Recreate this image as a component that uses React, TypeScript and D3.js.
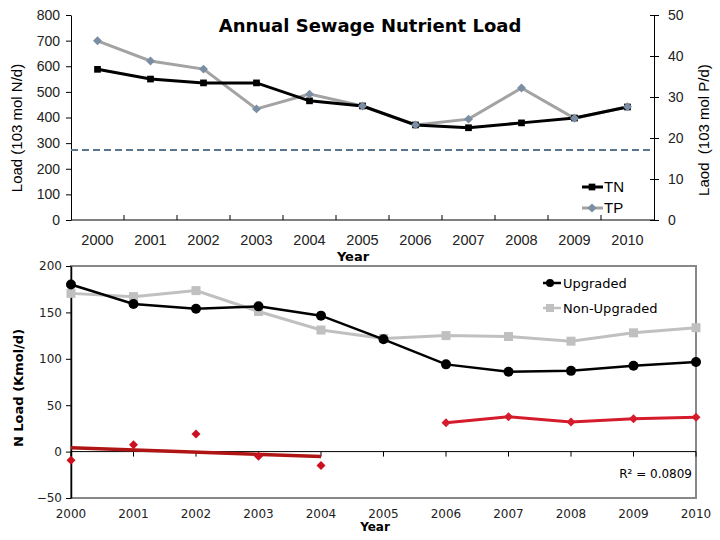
import React, { useEffect, useRef } from 'react';
import * as d3 from 'd3';

// Top panel: annual sewage nutrient load
const years = ['2000', '2001', '2002', '2003', '2004', '2005', '2006', '2007', '2008', '2009', '2010'];
const tnLoad = [588, 550, 535, 535, 465, 445, 371, 360, 379, 398, 441];
const tpLoad = [43.7, 38.8, 36.8, 27.1, 30.7, 27.8, 23.2, 24.6, 32.2, 24.8, 27.6];
const targetLine = 273;
const leftTicks = [0, 100, 200, 300, 400, 500, 600, 700, 800];
const rightTicks = [0, 10, 20, 30, 40, 50];

// Bottom panel: N load of upgraded vs non-upgraded plants
const yearNums = [2000, 2001, 2002, 2003, 2004, 2005, 2006, 2007, 2008, 2009, 2010];
const upgraded = [180, 159, 154, 156.5, 146.5, 121, 94, 86, 87, 92.5, 96.5];
const nonUpgraded = [170.5, 167, 173.5, 151, 131, 122, 125, 124, 119, 128, 133.5];
const diffEarlyYears = [2000, 2001, 2002, 2003, 2004];
const diffEarly = [-9.4, 7.4, 19, -5, -15];
const diffLateYears = [2006, 2007, 2008, 2009, 2010];
const diffLate = [31, 37.6, 32, 35.5, 37];
const bottomTicks = [-50, 0, 50, 100, 150, 200];

const ARIAL = '"Liberation Sans", Arial, sans-serif';
const VERDANA = '"DejaVu Sans", Verdana, sans-serif';

const App: React.FC = () => {
  const ref = useRef<SVGSVGElement>(null);

  useEffect(() => {
    if (!ref.current) return;
    const svg = d3.select(ref.current);
    svg.selectAll('*').remove();

    // square rotated 45deg = diamond
    const square = d3.symbol().type(d3.symbolSquare).size(45);
    const diamond = d3.symbol().type(d3.symbolSquare).size(40);

    // ---------- top chart ----------
    const x = d3.scaleBand<string>().domain(years).range([71, 654]);
    const yL = d3.scaleLinear().domain([0, 800]).range([220, 15]);
    const yR = d3.scaleLinear().domain([0, 50]).range([220, 15]);
    const cx = (d: string) => (x(d) ?? 0) + x.bandwidth() / 2;

    const top = svg.append('g');

    // left axis
    const la = top.append('g')
      .attr('transform', 'translate(71,0)')
      .call(d3.axisLeft(yL).tickValues(leftTicks).tickSize(5).tickPadding(6).tickSizeOuter(0));
    la.select('.domain').attr('stroke', '#000');
    la.selectAll('text').style('font-family', ARIAL).style('font-size', '14px').attr('fill', '#222');

    // right axis
    const ra = top.append('g')
      .attr('transform', 'translate(654,0)')
      .call(d3.axisRight(yR).tickValues(rightTicks).tickSize(5).tickPadding(9).tickSizeOuter(0));
    ra.selectAll('text').style('font-family', ARIAL).style('font-size', '14px').attr('fill', '#222');
    ra.selectAll('.tick line').attr('x1', -4);

    // x axis
    top.append('line').attr('x1', 71).attr('x2', 654).attr('y1', 220).attr('y2', 220).attr('stroke', '#000');
    years.forEach((yr, i) => {
      if (i > 0) {
        top.append('line')
          .attr('x1', x(yr) ?? 0).attr('x2', x(yr) ?? 0)
          .attr('y1', 220).attr('y2', 215).attr('stroke', '#000');
      }
      top.append('text')
        .attr('x', cx(yr)).attr('y', 245)
        .attr('text-anchor', 'middle')
        .style('font-family', ARIAL).style('font-size', '14.5px')
        .attr('fill', '#222')
        .text(yr);
    });

    top.append('text')
      .attr('x', 353).attr('y', 261).attr('text-anchor', 'middle')
      .style('font-family', VERDANA).style('font-size', '13px').style('font-weight', 'bold')
      .text('Year');

    // dashed reference line
    top.append('line')
      .attr('x1', 71).attr('x2', 654)
      .attr('y1', yL(targetLine)).attr('y2', yL(targetLine))
      .attr('stroke', '#5b768c').attr('stroke-width', 2).attr('stroke-dasharray', '7,4');

    // TP line (right axis)
    const tpLine = d3.line<number>().x((_, i) => cx(years[i])).y((d) => yR(d));
    top.append('path').datum(tpLoad)
      .attr('fill', 'none').attr('stroke', '#a3a3a3').attr('stroke-width', 3).attr('d', tpLine);

    // TN line (left axis)
    const tnLine = d3.line<number>().x((_, i) => cx(years[i])).y((d) => yL(d));
    top.append('path').datum(tnLoad)
      .attr('fill', 'none').attr('stroke', '#000').attr('stroke-width', 3).attr('d', tnLine);

    top.selectAll('.tn').data(tnLoad).enter().append('path')
      .attr('d', square)
      .attr('transform', (d, i) => `translate(${cx(years[i])},${yL(d)})`)
      .attr('fill', '#000');

    top.selectAll('.tp').data(tpLoad).enter().append('path')
      .attr('d', diamond)
      .attr('transform', (d, i) => `translate(${cx(years[i])},${yR(d)}) rotate(45)`)
      .attr('fill', '#7b8ea3');

    // title
    top.append('text')
      .attr('x', 370).attr('y', 32).attr('text-anchor', 'middle')
      .style('font-family', VERDANA).style('font-size', '18px').style('font-weight', 'bold')
      .text('Annual Sewage Nutrient Load');

    // axis titles
    top.append('text')
      .attr('transform', 'translate(22,128) rotate(-90)')
      .attr('text-anchor', 'middle')
      .style('font-family', ARIAL).style('font-size', '15px')
      .text('Load (103 mol N/d)');
    top.append('text')
      .attr('transform', 'translate(709,130) rotate(-90)')
      .attr('text-anchor', 'middle')
      .style('font-family', ARIAL).style('font-size', '15px')
      .style('white-space', 'pre')
      .text('Laod  (103 mol P/d)');

    // legend
    const lg = top.append('g');
    [
      { name: 'TN', color: '#000', mcolor: '#000', sym: square, rot: 0, y: 187 },
      { name: 'TP', color: '#a3a3a3', mcolor: '#7b8ea3', sym: diamond, rot: 45, y: 208 },
    ].forEach((d) => {
      lg.append('line').attr('x1', 582).attr('x2', 603).attr('y1', d.y).attr('y2', d.y)
        .attr('stroke', d.color).attr('stroke-width', 3);
      lg.append('path').attr('d', d.sym)
        .attr('transform', `translate(592,${d.y}) rotate(${d.rot})`).attr('fill', d.mcolor);
      lg.append('text').attr('x', 604).attr('y', d.y + 5)
        .style('font-family', ARIAL).style('font-size', '15px').text(d.name);
    });

    // ---------- bottom chart ----------
    const bx = d3.scaleLinear().domain([2000, 2010]).range([71, 696]);
    const by = d3.scaleLinear().domain([-50, 200]).range([498, 266]);
    const bot = svg.append('g');

    bot.append('rect')
      .attr('x', 71).attr('y', 266).attr('width', 625).attr('height', 232)
      .attr('fill', 'none').attr('stroke', '#888').attr('stroke-width', 2);

    const ba = bot.append('g')
      .attr('transform', 'translate(71,0)')
      .call(d3.axisLeft(by).tickValues(bottomTicks).tickSize(5).tickPadding(4).tickSizeOuter(0));
    ba.select('.domain').attr('stroke', '#000').attr('stroke-width', 1.5);
    ba.selectAll('text').style('font-family', VERDANA).style('font-size', '12px').attr('fill', '#222');

    // zero line with year ticks
    bot.append('line').attr('x1', 71).attr('x2', 696).attr('y1', by(0)).attr('y2', by(0)).attr('stroke', '#000');
    yearNums.forEach((yr) => {
      bot.append('line').attr('x1', bx(yr)).attr('x2', bx(yr))
        .attr('y1', by(0)).attr('y2', by(0) + 5).attr('stroke', '#000');
      bot.append('text').attr('x', bx(yr)).attr('y', 518).attr('text-anchor', 'middle')
        .style('font-family', VERDANA).style('font-size', '12px').attr('fill', '#222')
        .text(String(yr));
    });

    bot.append('text')
      .attr('x', 375).attr('y', 531).attr('text-anchor', 'middle')
      .style('font-family', VERDANA).style('font-size', '12px').style('font-weight', 'bold')
      .text('Year');

    bot.append('text')
      .attr('transform', `translate(23,${388}) rotate(-90)`)
      .attr('text-anchor', 'middle')
      .style('font-family', VERDANA).style('font-size', '13px').style('font-weight', 'bold')
      .text('N Load (Kmol/d)');

    const bLine = d3.line<number>().x((_, i) => bx(yearNums[i])).y((d) => by(d));

    bot.append('path').datum(nonUpgraded)
      .attr('fill', 'none').attr('stroke', '#c0c0c0').attr('stroke-width', 3).attr('d', bLine);
    bot.selectAll('.nu').data(nonUpgraded).enter().append('rect')
      .attr('x', (_, i) => bx(yearNums[i]) - 4.5).attr('y', (d) => by(d) - 4.5)
      .attr('width', 9).attr('height', 9).attr('fill', '#c0c0c0');

    bot.append('path').datum(upgraded)
      .attr('fill', 'none').attr('stroke', '#000').attr('stroke-width', 2.5).attr('d', bLine);
    bot.selectAll('.up').data(upgraded).enter().append('circle')
      .attr('cx', (_, i) => bx(yearNums[i])).attr('cy', (d) => by(d))
      .attr('r', 5).attr('fill', '#000');

    // linear trend for the early differences
    const mx = d3.mean(diffEarlyYears) ?? 0;
    const my = d3.mean(diffEarly) ?? 0;
    const sxy = d3.sum(diffEarlyYears, (xv, i) => (xv - mx) * (diffEarly[i] - my));
    const sxx = d3.sum(diffEarlyYears, (xv) => (xv - mx) ** 2);
    const slope = sxy / sxx;
    const trend = (xv: number) => my + slope * (xv - mx);
    const x0 = diffEarlyYears[0];
    const x1 = diffEarlyYears[diffEarlyYears.length - 1];
    bot.append('line')
      .attr('x1', bx(x0)).attr('x2', bx(x1))
      .attr('y1', by(trend(x0))).attr('y2', by(trend(x1)))
      .attr('stroke', '#b01515').attr('stroke-width', 3.5);

    const redDiamond = d3.symbol().type(d3.symbolSquare).size(40);
    bot.selectAll('.de').data(diffEarly).enter().append('path')
      .attr('d', redDiamond)
      .attr('transform', (d, i) => `translate(${bx(diffEarlyYears[i])},${by(d)}) rotate(45)`)
      .attr('fill', '#cc1020');

    const lateLine = d3.line<number>().x((_, i) => bx(diffLateYears[i])).y((d) => by(d));
    bot.append('path').datum(diffLate)
      .attr('fill', 'none').attr('stroke', '#d41c2c').attr('stroke-width', 3).attr('d', lateLine);
    bot.selectAll('.dl').data(diffLate).enter().append('path')
      .attr('d', redDiamond)
      .attr('transform', (d, i) => `translate(${bx(diffLateYears[i])},${by(d)}) rotate(45)`)
      .attr('fill', '#d41c2c');

    bot.append('text')
      .attr('x', 692).attr('y', 478).attr('text-anchor', 'end')
      .style('font-family', VERDANA).style('font-size', '12px')
      .text('R² = 0.0809');

    // bottom legend
    const bl = bot.append('g');
    bl.append('line').attr('x1', 543).attr('x2', 561).attr('y1', 283).attr('y2', 283)
      .attr('stroke', '#000').attr('stroke-width', 2.5);
    bl.append('circle').attr('cx', 550).attr('cy', 283).attr('r', 4).attr('fill', '#000');
    bl.append('text').attr('x', 563).attr('y', 288)
      .style('font-family', VERDANA).style('font-size', '13px').text('Upgraded');
    bl.append('line').attr('x1', 543).attr('x2', 561).attr('y1', 308).attr('y2', 308)
      .attr('stroke', '#c0c0c0').attr('stroke-width', 2.5);
    bl.append('rect').attr('x', 546).attr('y', 304).attr('width', 8).attr('height', 8).attr('fill', '#c0c0c0');
    bl.append('text').attr('x', 563).attr('y', 313)
      .style('font-family', VERDANA).style('font-size', '13px').text('Non-Upgraded');
  }, []);

  return (
    <div style={{ position: 'absolute', left: 0, top: 0, width: 720, height: 540, background: '#fff' }}>
      <svg ref={ref} width={720} height={540} style={{ display: 'block' }}></svg>
    </div>
  );
};

export default App;
